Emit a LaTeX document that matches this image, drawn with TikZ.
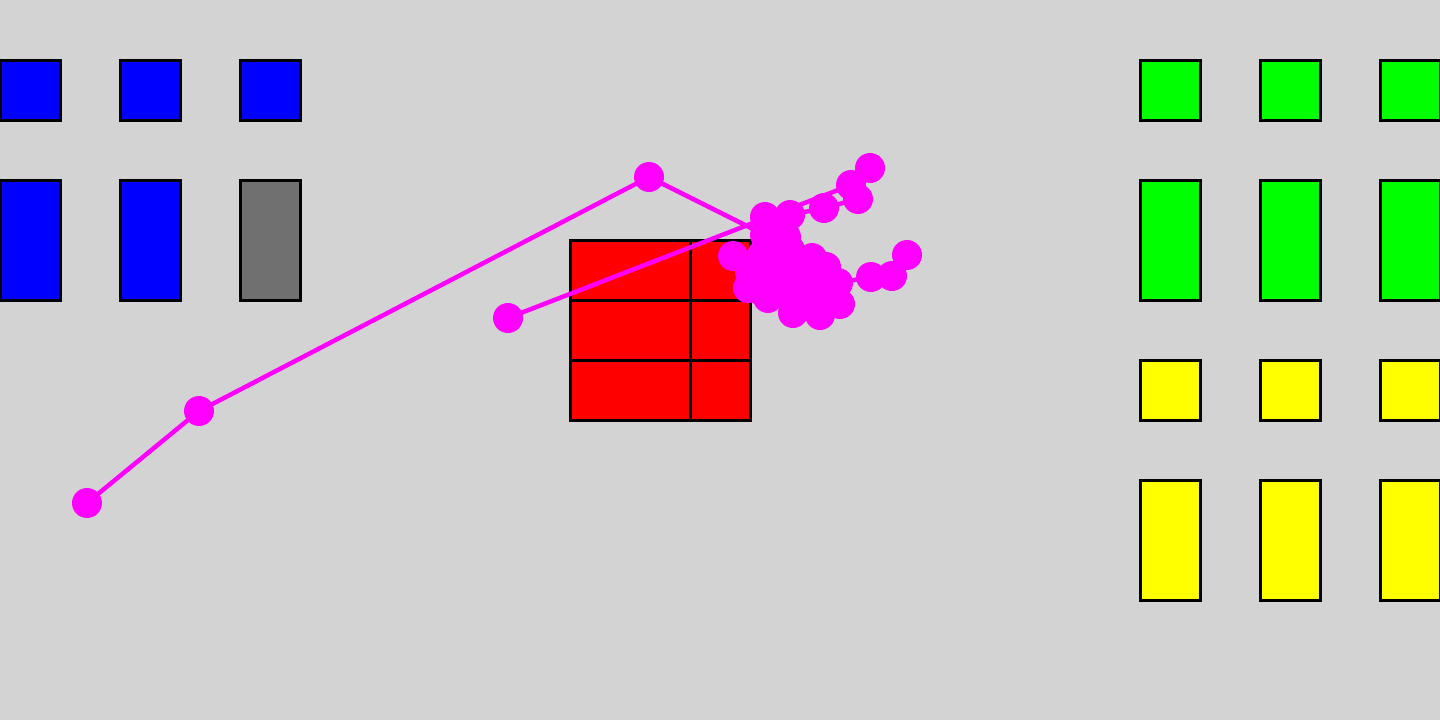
\documentclass[tikz,border=0pt]{standalone}
\definecolor{bg}{HTML}{D3D3D3}
\definecolor{mag}{HTML}{FF00FF}
\definecolor{gr}{HTML}{707070}
\definecolor{grn}{HTML}{00FF00}
\definecolor{ylw}{HTML}{FFFF00}
\definecolor{blu}{HTML}{0000FF}
\definecolor{rd}{HTML}{FF0000}
\begin{document}
\begin{tikzpicture}[x=1pt,y=-1pt,
  box/.style={draw=black,line width=3pt},
  walk/.style={draw=mag,line width=4.5pt,line cap=round,line join=round},
  dot/.style={fill=mag}]
\useasboundingbox (0,0) rectangle (1440,720);
\fill[bg] (0,0) rectangle (1440,720);
\begin{scope}
\clip (0,0) rectangle (1440,720);
% blue / gray
\foreach \x in {0,120,240} \draw[box,fill=blu] (\x,60) rectangle ++(60,60);
\draw[box,fill=blu] (0,180) rectangle ++(60,120);
\draw[box,fill=blu] (120,180) rectangle ++(60,120);
\draw[box,fill=gr] (240,180) rectangle ++(60,120);
% green / yellow
\foreach \x in {1140,1260,1380} {
  \draw[box,fill=grn] (\x,60) rectangle ++(60,60);
  \draw[box,fill=grn] (\x,180) rectangle ++(60,120);
  \draw[box,fill=ylw] (\x,360) rectangle ++(60,60);
  \draw[box,fill=ylw] (\x,480) rectangle ++(60,120);
}
% red grid
\draw[box,fill=rd] (570,240) rectangle (750,420);
\draw[box] (690,240) -- (690,420);
\draw[box] (570,300) -- (750,300);
\draw[box] (570,360) -- (750,360);
\end{scope}
% walk points
\foreach \n/\p in {a1/{87,503},a2/{199,411},a3/{649,177},a4/{765,235},a5/{786,237},a6/{780,260},a7/{812,258},a8/{826,267},a9/{838,283},a10/{840,304},a11/{820,315},a12/{793,313},a13/{768,298},a14/{748,288},a15/{760,270},a16/{733,256},a17/{800,285},a18/{775,282},
  a19/{790,250},a20/{800,270},a21/{815,290},a22/{790,297},a23/{770,248},a24/{782,228},a25/{805,300},a26/{760,290},
  a27/{762,255},a28/{750,272},a29/{790,265},
  b1/{508,318},b2/{851,185},b3/{870,168},b4/{858,199},b5/{824,208},b6/{790,215},b7/{765,217},
  c1/{871,277},c2/{892,276},c3/{907,255}}
  \coordinate (\n) at (\p);
\draw[walk] (a1)--(a2)--(a3)--(a4)--(a5)--(a6)--(a7)--(a8)--(a9)--(a10)--(a11)--(a12)--(a13)--(a14)--(a15)--(a16);
\draw[walk] (a9)--(c1)--(c2)--(c3);
\draw[walk] (b1)--(b2)--(b3);
\draw[walk] (b2)--(b4)--(b5)--(b6)--(b7);
\foreach \n in {a1,a2,a3,a4,a5,a6,a7,a8,a9,a10,a11,a12,a13,a14,a15,a16,a17,a18,a19,a20,a21,a22,a23,a24,a25,a26,a27,a28,a29,b1,b2,b3,b4,b5,b6,b7,c1,c2,c3}
  \fill[dot] (\n) circle (15);
\end{tikzpicture}
\end{document}
